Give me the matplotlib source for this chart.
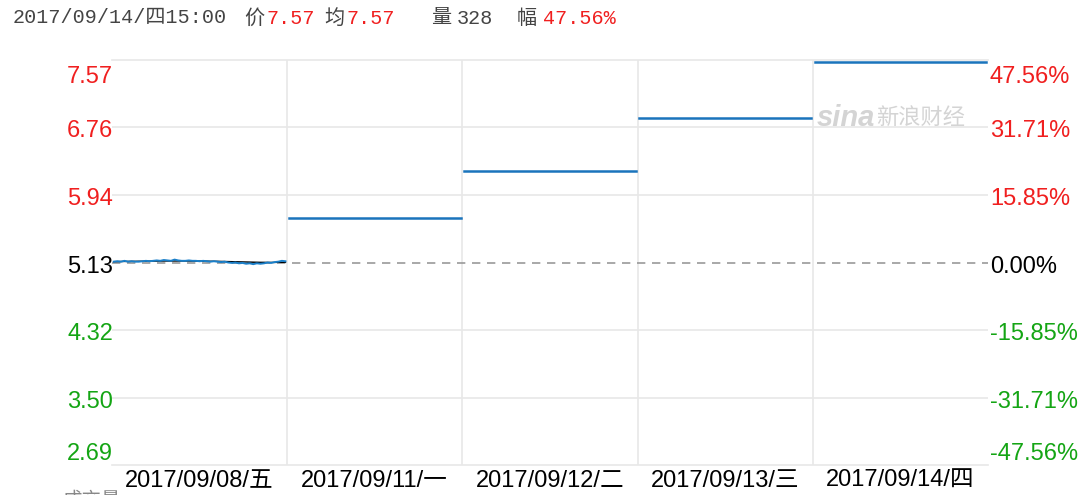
import matplotlib as mpl
mpl.use("Agg")
import matplotlib.pyplot as plt
import numpy as np

# chart data
day_labels = ["2017/09/08/五", "2017/09/11/一", "2017/09/12/二", "2017/09/13/三", "2017/09/14/四"]
price_ticks = [2.69, 3.50, 4.32, 5.13, 5.94, 6.76, 7.57]
pct_labels = ["-47.56%", "-31.71%", "-15.85%", "0.00%", "15.85%", "31.71%", "47.56%"]
prev_close = 5.13

# first day intraday (price and average)
day1_price = [5.14, 5.145, 5.14, 5.15, 5.14, 5.145, 5.14, 5.14, 5.145, 5.15,
              5.145, 5.15, 5.155, 5.15, 5.16, 5.155, 5.15, 5.165, 5.155, 5.15,
              5.15, 5.155, 5.15, 5.15, 5.145, 5.15, 5.145, 5.14, 5.145, 5.14,
              5.135, 5.14, 5.13, 5.125, 5.13, 5.12, 5.125, 5.115, 5.12, 5.11,
              5.12, 5.115, 5.12, 5.13, 5.125, 5.135, 5.14, 5.15, 5.145]
day1_avg = [5.14, 5.141, 5.142, 5.143, 5.143, 5.144, 5.144, 5.145, 5.145, 5.146,
            5.146, 5.147, 5.147, 5.147, 5.148, 5.148, 5.148, 5.148, 5.148, 5.148,
            5.148, 5.148, 5.147, 5.147, 5.147, 5.146, 5.146, 5.145, 5.145, 5.144,
            5.143, 5.142, 5.141, 5.140, 5.139, 5.138, 5.137, 5.136, 5.135, 5.134,
            5.133, 5.132, 5.132, 5.131, 5.131, 5.131, 5.132, 5.132, 5.133]
# later days: one price all day (limit up)
flat_prices = [5.67, 6.23, 6.87, 7.55]

# header pieces: (text, x pixel, colour)
header = [("2017/09/14/四15:00", 13, "#444444"), ("价", 244, "#444444"), ("7.57", 267, "#f01f1f"),
          ("均", 324, "#444444"), ("7.57", 346, "#f01f1f"), ("量", 431, "#444444"),
          ("328", 457, "#444444"), ("幅", 517, "#444444"), ("47.56%", 543, "#f01f1f")]

RED = "#f01f1f"
GREEN = "#14a514"
W, H = 1080, 495

fig = plt.figure(figsize=(10.8, 4.95), dpi=100)
ax = fig.add_axes([112 / W, 1 - 465 / H, 876 / W, 405 / H])

ax.set_xlim(0, 5)
ax.set_ylim(price_ticks[0], price_ticks[-1])

# grid
for t in price_ticks[1:-1]:
    if t == prev_close:
        ax.axhline(t, color="#999999", lw=1.2, ls=(0, (5, 4)), zorder=1)
    else:
        ax.axhline(t, color="#e8e8e8", lw=1.2, zorder=0)
for d in range(1, 5):
    ax.axvline(d, color="#e8e8e8", lw=1.2, zorder=0)

for s in ["left", "right"]:
    ax.spines[s].set_visible(False)
for s in ["top", "bottom"]:
    ax.spines[s].set_color("#e8e8e8")
    ax.spines[s].set_linewidth(1.2)

# lines
x1 = np.linspace(0.01, 0.99, len(day1_price))
ax.plot(x1, day1_avg, color="black", lw=1.0, zorder=3)
ax.plot(x1, day1_price, color="#1a7fc9", lw=1.4, zorder=4)
for i, p in enumerate(flat_prices):
    ax.plot([i + 1.01, i + 1.99], [p, p], color="#1a74bc", lw=1.8, zorder=4)

ax.set_xticks([])
ax.set_yticks([])

font = ["Liberation Sans", "Noto Sans CJK SC"]


def tick_colour(v):
    if v > prev_close:
        return RED
    if v < prev_close:
        return GREEN
    return "black"


n = len(price_ticks)
for i, (v, pl) in enumerate(zip(price_ticks, pct_labels)):
    if i == 0:
        va, y = "bottom", v - 0.005
    elif i == n - 1:
        va, y = "top", v - 0.07
    else:
        va, y = "center", v - 0.05
    c = tick_colour(v)
    ax.text(0.0015, y, f"{v:.2f}", ha="right", va=va,
            color=c, fontsize=17, family=font, transform=ax.get_yaxis_transform())
    ax.text(1.002, y, pl, ha="left", va=va,
            color=c, fontsize=17, family=font, transform=ax.get_yaxis_transform())

for i, lab in enumerate(day_labels):
    fig.text((112 + 175.2 * (i + 0.5)) / W, 1 - 481 / H, lab, ha="center", va="center",
             fontsize=17, family=font, color="black")

# header line
for txt, xp, col in header:
    fig.text(xp / W, 1 - 18 / H, txt, ha="left", va="center", fontsize=14.5,
             family=["Liberation Mono", "Noto Sans CJK SC"], color=col)

# watermark
fig.text(817 / W, 1 - 118 / H, "sina", ha="left", va="center", fontsize=21, fontweight="bold",
         style="italic", family=font, color="#d4d4d4")
fig.text(876 / W, 1 - 118 / H, "新浪财经", ha="left", va="center", fontsize=16,
         family=font, color="#d4d4d4")

# cut-off volume label at the bottom
fig.text(62 / W, -6 / H, "成交量", ha="left", va="center", fontsize=14,
         family=font, color="#888888")

fig.savefig("out.png", dpi=100)
